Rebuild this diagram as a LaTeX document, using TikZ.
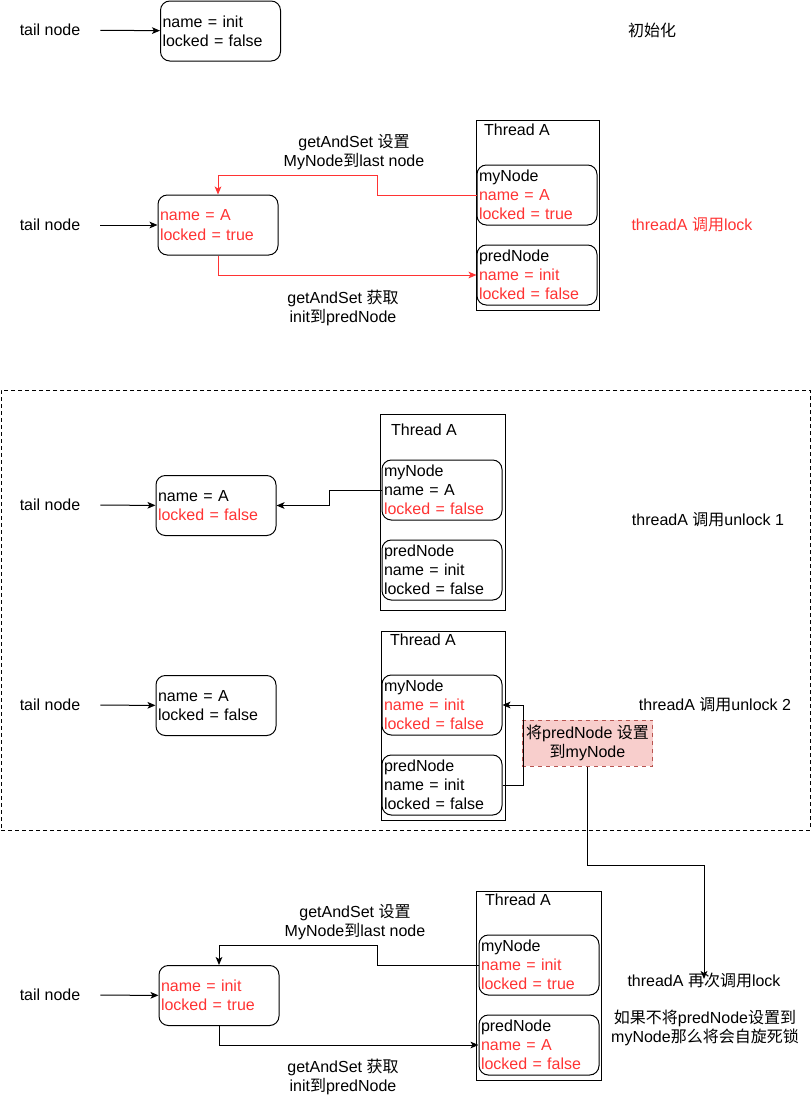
\documentclass[tikz,border=0pt]{standalone}
\usepackage{fontspec}
\setmainfont{Liberation Sans}
\newfontfamily\zhfont{Noto Sans CJK SC}
\newcommand{\zhs}[1]{{\zhfont #1}}
\usepackage{tikz}
\usetikzlibrary{fit,positioning,shapes,arrows.meta}
\definecolor{lockred}{HTML}{FF3333}
\definecolor{notefill}{HTML}{F8CECC}
\definecolor{notedraw}{HTML}{B85450}

\begin{document}
\begin{tikzpicture}[x=0.75pt,y=-0.75pt,font=\fontsize{12}{14.4}\selectfont]
            \tikzstyle{qnode}=[rectangle, rounded corners=7pt, draw=black, line width=0.75pt, minimum width=90pt, minimum height=45pt, text width=87pt, align=left, inner xsep=1.5pt, inner ysep=0pt]
            \tikzstyle{thread}=[rectangle, draw=black, line width=0.75pt, inner sep=0pt]
            \tikzstyle{tail}=[minimum width=75pt, inner sep=0pt]
            \tikzstyle{txt}=[align=center, inner sep=1pt]
            \tikzstyle{note}=[rectangle, fill=notefill, draw=notedraw, dashed, line width=0.75pt, minimum width=98pt, minimum height=34.5pt, align=center, inner sep=0pt]
            \tikzstyle{connect}=[line width=0.75pt, -{Stealth[length=6pt,width=5pt,inset=1.5pt]}]
            \useasboundingbox (0,0) rectangle (812,1101);

            % init
            \node[tail] (T1) at (50,30){tail node};
            \node[qnode] (Q1) at (220.5,31){name = init\\locked = false};
            \node[txt] (L1) at (652,30){\zhs{初始化}};
            \path[-] (T1) edge [connect] (Q1);

            % lock
            \node[tail] (T2) at (50,225){tail node};
            \node[qnode, text=lockred] (Q2) at (218,225){name = A\\locked = true};
            \node[thread, fit={(476,120) (599,310)}] (TH2) {};
            \node[txt] (N2) at (517,130){Thread A};
            \node[qnode] (M2) at (537,195){myNode\\\textcolor{lockred}{name = A}\\\textcolor{lockred}{locked = true}};
            \node[qnode] (P2) at (537,275){predNode\\\textcolor{lockred}{name = init}\\\textcolor{lockred}{locked = false}};
            \node[txt] (G2a) at (354,152){getAndSet \zhs{设置}\\MyNode\zhs{到}last node};
            \node[txt] (G2b) at (343,308){getAndSet \zhs{获取}\\init\zhs{到}predNode};
            \node[txt, text=lockred] (L2) at (692,225){threadA \zhs{调用}lock};
            \path[-] (T2) edge [connect] (Q2);
            \draw[connect, draw=lockred] (M2.west) -- ++(-99,0) -- ++(0,-20) -| (Q2.north);
            \draw[connect, draw=lockred] (Q2.south) |- (P2.west);

            % unlock
            \node[thread, dashed, dash pattern=on 3pt off 2.25pt, fit={(1,390) (810,830)}] (UN) {};

            \node[tail] (T3) at (50,505){tail node};
            \node[qnode] (Q3) at (216,505.5){name = A\\\textcolor{lockred}{locked = false}};
            \node[thread, fit={(380,414) (505,610)}] (TH3) {};
            \node[txt] (N3) at (424,430){Thread A};
            \node[qnode] (M3) at (442,490){myNode\\name = A\\\textcolor{lockred}{locked = false}};
            \node[qnode] (P3) at (442,570){predNode\\name = init\\locked = false};
            \node[txt] (L3) at (708,520){threadA \zhs{调用}unlock 1};
            \path[-] (T3) edge [connect] (Q3);
            \draw[connect] (M3.west) -- (329,490) |- (Q3.east);

            \node[tail] (T4) at (50,705){tail node};
            \node[qnode] (Q4) at (216,705.5){name = A\\locked = false};
            \node[thread, fit={(381,631) (505,820)}] (TH4) {};
            \node[txt] (N4) at (423,640){Thread A};
            \node[qnode] (M4) at (442,705){myNode\\\textcolor{lockred}{name = init}\\\textcolor{lockred}{locked = false}};
            \node[qnode] (P4) at (442,785){predNode\\name = init\\locked = false};
            \node[note] (NT) at (587.5,743){\zhs{将}predNode \zhs{设置}\\\zhs{到}myNode};
            \node[txt] (L4) at (715,705){threadA \zhs{调用}unlock 2};
            \path[-] (T4) edge [connect] (Q4);
            \draw[connect] (P4.east) -- ++(21,0) |- (M4.east);

            % lock again
            \node[tail] (T5) at (50,995){tail node};
            \node[qnode, text=lockred] (Q5) at (219,995.5){name = init\\locked = true};
            \node[thread, fit={(476,891) (601,1080)}] (TH5) {};
            \node[txt] (N5) at (518,900){Thread A};
            \node[qnode] (M5) at (539,965){myNode\\\textcolor{lockred}{name = init}\\\textcolor{lockred}{locked = true}};
            \node[qnode] (P5) at (539,1045){predNode\\\textcolor{lockred}{name = A}\\\textcolor{lockred}{locked = false}};
            \node[txt] (G5a) at (355,922){getAndSet \zhs{设置}\\MyNode\zhs{到}last node};
            \node[txt] (G5b) at (343,1077){getAndSet \zhs{获取}\\init\zhs{到}predNode};
            \node[txt] (L5) at (704,980){threadA \zhs{再次调用}lock};
            \node[txt] (D5) at (705,1028){\zhs{如果不将}predNode\zhs{设置到}\\myNode\zhs{那么将会自旋死锁}};
            \path[-] (T5) edge [connect] (Q5);
            \draw[connect] (M5.west) -- ++(-101,0) -- ++(0,-20) -| (Q5.north);
            \draw[connect] (Q5.south) |- (P5.west);
            \draw[connect] (NT.south) -- ++(0,99) -| ([yshift=-6pt]L5.north);

        \end{tikzpicture}
\end{document}
